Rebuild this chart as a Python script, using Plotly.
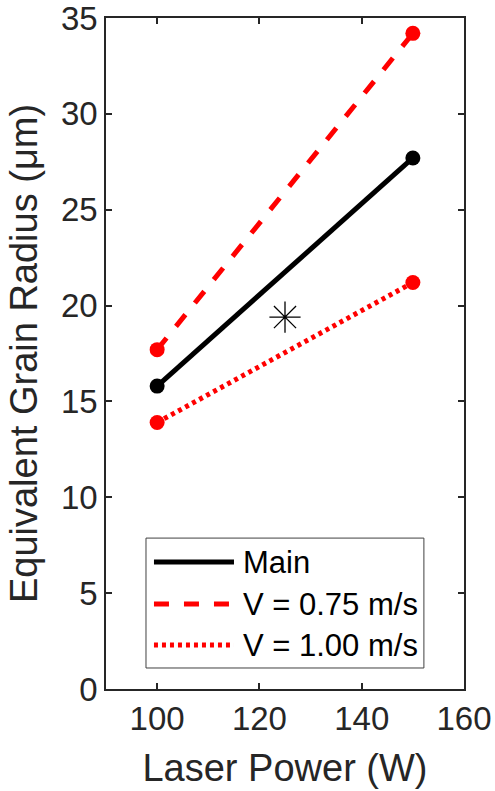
import plotly.graph_objects as go

laser_power = [100, 150]
main_radius = [15.8, 27.7]
v075_radius = [17.7, 34.2]
v100_radius = [13.9, 21.2]
star_x = [125]
star_y = [19.4]
legend_names = ["Main", "V = 0.75 m/s", "V = 1.00 m/s"]
x_ticks = [100, 120, 140, 160]
y_ticks = [0, 5, 10, 15, 20, 25, 30, 35]

FONT = "Liberation Sans, Arial, sans-serif"
TXT = "#262626"
LW = 5

fig = go.Figure()
fig.add_trace(go.Scatter(x=laser_power, y=v075_radius, mode="lines+markers",
                         line=dict(color="#FF0000", width=LW, dash="15px,15px"),
                         marker=dict(color="#FF0000", size=15), showlegend=False))
fig.add_trace(go.Scatter(x=laser_power, y=v100_radius, mode="lines+markers",
                         line=dict(color="#FF0000", width=LW, dash="4px,4px"),
                         marker=dict(color="#FF0000", size=15), showlegend=False))
fig.add_trace(go.Scatter(x=laser_power, y=main_radius, mode="lines+markers",
                         line=dict(color="#000000", width=LW),
                         marker=dict(color="#000000", size=15), showlegend=False))
fig.add_trace(go.Scatter(x=star_x, y=star_y, mode="markers",
                         marker=dict(symbol="asterisk-open", size=26, color="#000000",
                                     line=dict(color="#000000", width=1.3)),
                         showlegend=False))

# Custom legend (MATLAB style, long line samples)
shapes = [dict(type="rect", xref="paper", yref="paper", x0=0.1117, x1=0.888,
               y0=0.0313, y1=0.2249, line=dict(color="#404040", width=1),
               fillcolor="white", layer="above")]
rows_y = [0.1891, 0.1266, 0.0655]
styles = [("#000000", "solid"), ("#FF0000", "15px,15px"), ("#FF0000", "4px,4px")]
annotations = []
for name, ry, (col, dash) in zip(legend_names, rows_y, styles):
    shapes.append(dict(type="line", xref="paper", yref="paper", x0=0.134, x1=0.3575,
                       y0=ry, y1=ry, line=dict(color=col, width=LW, dash=dash),
                       layer="above"))
    annotations.append(dict(text=name, xref="paper", yref="paper", x=0.377, y=ry,
                            xanchor="left", yanchor="middle", showarrow=False,
                            font=dict(family=FONT, size=31, color="#000000")))

fig.update_layout(
    width=495, height=791,
    margin=dict(l=106, r=31, t=18, b=102, autoexpand=False),
    paper_bgcolor="white", plot_bgcolor="white",
    font=dict(family=FONT, color=TXT),
    shapes=shapes, annotations=annotations,
    showlegend=False,
)
axis_common = dict(showgrid=False, zeroline=False, showline=True, linecolor=TXT,
                   linewidth=1.5, mirror="ticks", ticks="inside", ticklen=6,
                   tickwidth=1.5, tickcolor=TXT, automargin=False,
                   ticklabeloverflow="allow",
                   tickfont=dict(family=FONT, size=33, color=TXT))
fig.update_xaxes(range=[90, 160], tickvals=x_ticks,
                 title=dict(text="Laser Power (W)", font=dict(family=FONT, size=38, color=TXT), standoff=18),
                 **axis_common)
fig.update_yaxes(range=[0, 35], tickvals=y_ticks,
                 title=dict(text="Equivalent Grain Radius (μm)", font=dict(family=FONT, size=38, color=TXT), standoff=12),
                 **axis_common)

fig.write_html("out.html")
